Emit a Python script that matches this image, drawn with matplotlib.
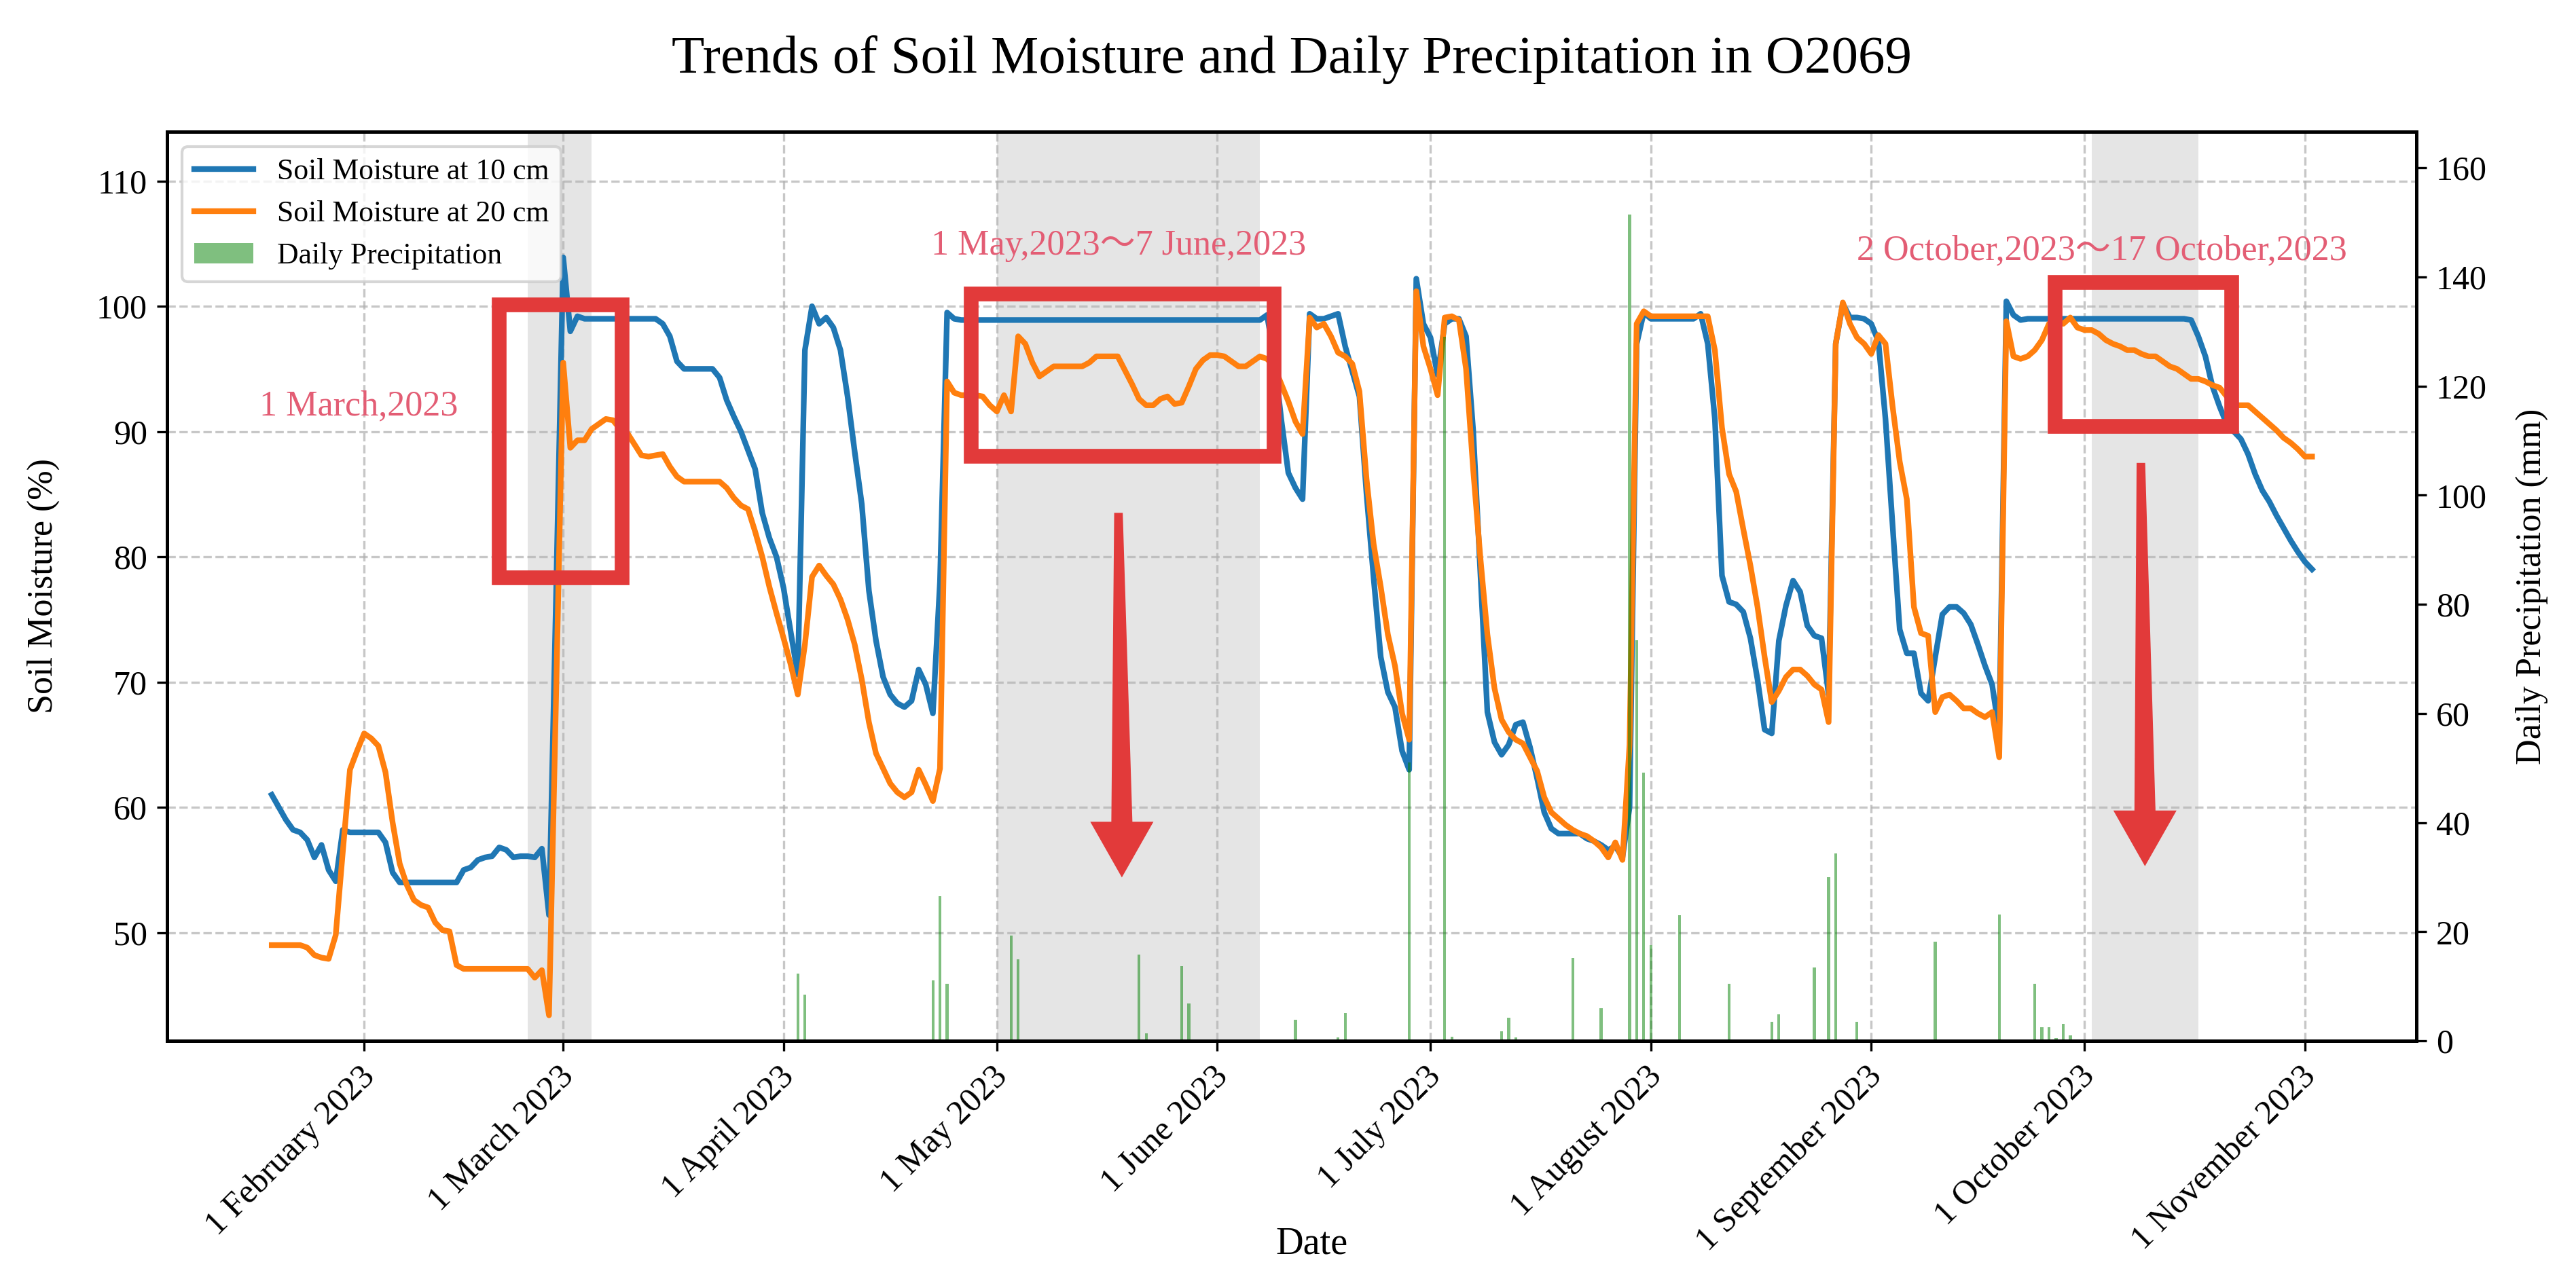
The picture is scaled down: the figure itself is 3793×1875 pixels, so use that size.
import numpy as np
import pandas as pd
import matplotlib
matplotlib.use("Agg")
import matplotlib.pyplot as plt
import matplotlib.dates as mdates
import matplotlib.transforms as mtransforms
from matplotlib.patches import Rectangle, Polygon
from matplotlib.ticker import MultipleLocator

plt.rcParams['font.family'] = ['Liberation Serif', 'Noto Sans CJK SC']
plt.rcParams['axes.linewidth'] = 1.2

# daily soil moisture (%), 19 Jan 2023 .. 2 Nov 2023
sm10 = [
    # Jan 19-31
    61.0, 60.0, 59.0, 58.2, 58.0, 57.4, 56.0, 57.0, 55.0, 54.1, 58.2, 58.0, 58.0,
    # Feb
    58.0, 58.0, 58.0, 57.2, 54.8, 54.0, 54.0, 54.0, 54.0, 54.0, 54.0, 54.0, 54.0, 54.0,
    55.0, 55.2, 55.8, 56.0, 56.1, 56.8, 56.6, 56.0, 56.1, 56.1, 56.0, 56.7, 51.4, 77.0,
    # Mar
    103.9, 98.0, 99.2, 99.0, 99.0, 99.0, 99.0, 99.0, 99.0, 99.0, 99.0, 99.0, 99.0, 99.0,
    98.6, 97.6, 95.6, 95.0, 95.0, 95.0, 95.0, 95.0, 94.3, 92.5, 91.2, 90.0, 88.5, 87.0,
    83.5, 81.5, 80.0,
    # Apr
    77.5, 74.0, 70.6, 96.5, 100.0, 98.6, 99.1, 98.3, 96.5, 92.8, 88.4, 84.2, 77.3, 73.3,
    70.4, 69.0, 68.3, 68.0, 68.5, 71.0, 69.8, 67.5, 78.0, 99.5, 99.0, 98.9, 98.9, 98.9,
    98.9, 98.9,
    # May
    98.9, 98.9, 98.9, 98.9, 98.9, 98.9, 98.9, 98.9, 98.9, 98.9, 98.9, 98.9, 98.9, 98.9,
    98.9, 98.9, 98.9, 98.9, 98.9, 98.9, 98.9, 98.9, 98.9, 98.9, 98.9, 98.9, 98.9, 98.9,
    98.9, 98.9, 98.9,
    # Jun
    98.9, 98.9, 98.9, 98.9, 98.9, 98.9, 98.9, 99.3, 96.0, 91.0, 86.7, 85.5, 84.6, 99.4,
    99.0, 99.0, 99.2, 99.4, 96.8, 94.8, 92.8, 85.0, 78.3, 72.0, 69.2, 68.0, 64.5, 63.0,
    102.2, 98.6,
    # Jul
    97.5, 94.5, 98.6, 99.0, 99.0, 97.6, 90.1, 78.9, 67.6, 65.2, 64.2, 65.0, 66.6, 66.8,
    64.8, 62.3, 59.6, 58.3, 57.9, 57.9, 57.9, 57.9, 57.5, 57.3, 57.0, 56.6, 56.9, 56.0,
    60.0, 97.0, 99.5,
    # Aug
    99.0, 99.0, 99.0, 99.0, 99.0, 99.0, 99.0, 99.4, 97.0, 91.0, 78.5, 76.4, 76.2, 75.6,
    73.5, 70.2, 66.2, 65.9, 73.3, 76.1, 78.1, 77.2, 74.5, 73.7, 73.5, 69.0, 97.0, 100.2,
    99.1, 99.1, 99.0,
    # Sep
    98.6, 97.2, 91.0, 82.5, 74.2, 72.3, 72.3, 69.1, 68.5, 72.0, 75.4, 76.0, 76.0, 75.5,
    74.6, 73.0, 71.3, 69.8, 66.0, 100.4, 99.3, 98.9, 99.0, 99.0, 99.0, 99.0, 99.0, 99.0,
    99.0, 99.0,
    # Oct
    99.0, 99.0, 99.0, 99.0, 99.0, 99.0, 99.0, 99.0, 99.0, 99.0, 99.0, 99.0, 99.0, 99.0,
    99.0, 98.9, 97.6, 96.0, 93.6, 92.0, 90.6, 90.0, 89.4, 88.2, 86.6, 85.3, 84.4, 83.3,
    82.3, 81.3, 80.4,
    # Nov 1-2
    79.6, 79.0,
]

sm20 = [
    # Jan 19-31
    49.0, 49.0, 49.0, 49.0, 49.0, 48.8, 48.2, 48.0, 47.9, 49.8, 56.5, 63.0, 64.5,
    # Feb
    65.9, 65.5, 64.9, 62.8, 58.8, 55.5, 53.8, 52.6, 52.2, 52.0, 50.8, 50.2, 50.1, 47.4,
    47.1, 47.1, 47.1, 47.1, 47.1, 47.1, 47.1, 47.1, 47.1, 47.1, 46.4, 47.0, 43.4, 69.0,
    # Mar
    95.5, 88.7, 89.3, 89.3, 90.2, 90.6, 91.0, 90.9, 90.2, 89.9, 89.0, 88.1, 88.0, 88.1,
    88.2, 87.2, 86.4, 86.0, 86.0, 86.0, 86.0, 86.0, 86.0, 85.5, 84.7, 84.1, 83.8, 82.0,
    80.0, 77.6, 75.5,
    # Apr
    73.5, 71.4, 69.0, 73.0, 78.4, 79.3, 78.5, 77.8, 76.6, 75.0, 73.0, 70.2, 66.8, 64.3,
    63.1, 61.9, 61.2, 60.8, 61.2, 63.0, 61.8, 60.5, 63.1, 94.0, 93.1, 92.9, 92.9, 92.9,
    92.8, 92.1,
    # May
    91.6, 92.9, 91.6, 97.6, 97.0, 95.5, 94.4, 94.8, 95.2, 95.2, 95.2, 95.2, 95.2, 95.5,
    96.0, 96.0, 96.0, 96.0, 94.9, 93.8, 92.6, 92.1, 92.1, 92.6, 92.8, 92.2, 92.3, 93.6,
    95.0, 95.7, 96.1,
    # Jun
    96.1, 96.0, 95.6, 95.2, 95.2, 95.6, 96.0, 95.8, 95.2, 93.8, 92.4, 90.8, 89.8, 99.1,
    98.3, 98.6, 97.6, 96.3, 96.0, 95.4, 93.2, 86.2, 81.0, 77.6, 73.8, 71.3, 67.5, 65.4,
    101.2, 96.8,
    # Jul
    95.0, 92.9, 99.1, 99.2, 98.9, 95.0, 87.0, 80.0, 73.8, 69.5, 67.0, 66.0, 65.4, 65.1,
    64.0, 62.9, 60.8, 59.6, 59.1, 58.6, 58.2, 57.9, 57.7, 57.3, 56.8, 56.0, 57.2, 55.8,
    65.0, 98.6, 99.6,
    # Aug
    99.2, 99.2, 99.2, 99.2, 99.2, 99.2, 99.2, 99.2, 99.2, 96.5, 90.3, 86.6, 85.2, 82.2,
    79.3, 76.0, 72.0, 68.4, 69.3, 70.4, 71.0, 71.0, 70.5, 69.8, 69.4, 66.8, 97.0, 100.3,
    98.6, 97.5, 97.0,
    # Sep
    96.2, 97.7, 97.0, 92.0, 87.6, 84.6, 76.0, 73.9, 73.7, 67.6, 68.8, 69.0, 68.5, 67.9,
    67.9, 67.5, 67.2, 67.6, 64.0, 98.8, 96.0, 95.8, 96.0, 96.5, 97.3, 98.6, 98.9, 98.6,
    99.1, 98.3,
    # Oct
    98.1, 98.1, 97.8, 97.3, 97.0, 96.8, 96.5, 96.5, 96.2, 96.0, 96.0, 95.6, 95.2, 95.0,
    94.6, 94.2, 94.2, 94.0, 93.7, 93.5, 92.8, 92.1, 92.1, 92.1, 91.6, 91.1, 90.6, 90.1,
    89.5, 89.1, 88.6,
    # Nov 1-2
    88.0, 88.0,
]

# days with precipitation (mm)
rain_days = ['2023-04-03', '2023-04-04', '2023-04-22', '2023-04-23', '2023-04-24', '2023-04-28',
             '2023-05-03', '2023-05-04', '2023-05-21', '2023-05-22', '2023-05-27', '2023-05-28',
             '2023-06-12', '2023-06-18', '2023-06-19', '2023-06-28', '2023-07-03', '2023-07-04',
             '2023-07-11', '2023-07-12', '2023-07-13', '2023-07-21', '2023-07-25', '2023-07-29',
             '2023-07-30', '2023-07-31', '2023-08-01', '2023-08-05', '2023-08-12', '2023-08-18',
             '2023-08-19', '2023-08-20', '2023-08-24', '2023-08-26', '2023-08-27', '2023-08-30',
             '2023-09-10', '2023-09-19', '2023-09-24', '2023-09-25', '2023-09-26', '2023-09-27',
             '2023-09-28', '2023-09-29']
rain_mm = [12.3, 8.4, 11.1, 26.5, 10.5, 0.3,
           19.3, 14.9, 15.8, 1.4, 13.7, 6.9,
           3.9, 0.6, 5.1, 51.0, 129.0, 0.8,
           1.8, 4.2, 0.6, 15.2, 6.0, 151.4,
           73.4, 49.2, 17.6, 23.0, 10.5, 3.5,
           4.9, 0.3, 13.4, 30.0, 34.4, 3.5,
           18.2, 23.1, 10.5, 2.5, 2.5, 0.5,
           3.1, 1.0]

periods = [('2023-02-24', '2023-03-05'), ('2023-05-01', '2023-06-07'), ('2023-10-02', '2023-10-17')]
period_labels = ['1 March,2023', '1 May,2023～7 June,2023', '2 October,2023～17 October,2023']

dates = pd.date_range('2023-01-19', periods=len(sm10), freq='D')
rain_dates = pd.to_datetime(rain_days)

RED = '#e23a3a'
PINK = '#e35d74'
d = lambda s: mdates.date2num(pd.Timestamp(s))

fig, ax1 = plt.subplots(figsize=(3793 / 300, 1875 / 300), dpi=300)
fig.subplots_adjust(left=0.0649, right=0.938, bottom=0.1824, top=0.8965)

for a, b in periods:
    ax1.axvspan(pd.Timestamp(a), pd.Timestamp(b), color='gray', alpha=0.2, lw=0)

ax1.plot(dates, sm10, color='#1f77b4', lw=2, label='Soil Moisture at 10 cm')
ax1.plot(dates, sm20, color='#ff7f0e', lw=2, label='Soil Moisture at 20 cm')
ax1.set_ylim(41.36, 113.93)
ax1.yaxis.set_major_locator(MultipleLocator(10))
ax1.set_xlim(d('2023-01-04 07:00'), d('2023-11-16 16:00'))
ax1.grid(True, linestyle='--', alpha=0.7)
ax1.set_xlabel('Date', fontsize=13.5)
ax1.xaxis.set_label_coords(0.509, -0.2046)
ax1.set_ylabel('Soil Moisture (%)', fontsize=12.5, labelpad=13)
ax1.tick_params(axis='y', labelsize=12)
ax1.tick_params(axis='x', labelsize=12)

ax1.xaxis.set_major_locator(mdates.MonthLocator(bymonthday=1))
ax1.xaxis.set_major_formatter(mdates.DateFormatter('%-d %B %Y'))
shift = mtransforms.ScaledTranslation(6 / 72, 0, fig.dpi_scale_trans)
for lbl in ax1.get_xticklabels():
    lbl.set_rotation(45)
    lbl.set_ha('right')
    lbl.set_transform(lbl.get_transform() + shift)

ax2 = ax1.twinx()
ax2.bar(rain_dates, rain_mm, width=0.4, color='green', alpha=0.5, label='Daily Precipitation')
ax2.set_ylim(0, 166.6)
ax2.set_ylabel('Daily Precipitation (mm)', fontsize=12.5, labelpad=10)
ax2.tick_params(labelsize=12)

# highlight boxes
boxes = [('2023-02-20 00:00', '2023-03-09 07:00', 78.35, 100.1),
         ('2023-04-27 10:00', '2023-06-09 01:00', 88.0, 101.0),
         ('2023-09-26 20:00', '2023-10-21 17:00', 90.4, 101.9)]
for x0, x1, y0, y1 in boxes:
    ax1.add_patch(Rectangle((d(x0), y0), d(x1) - d(x0), y1 - y0, fill=False,
                            edgecolor=RED, lw=5.2, zorder=6))

# downward arrows: tip position in data, shape in pixels (tapered shaft, triangular head)
arrows = [('2023-05-18 14:00', 54.4, 537, -5),
          ('2023-10-09 12:00', 55.3, 594, -6)]
for tip_t, tip_v, length, lean in arrows:
    shape = np.array([(0, 0), (-46.5, 82), (-15.5, 82), (-6.3 + lean, length),
                      (6.3 + lean, length), (15.5, 82), (46.5, 82)]) / 300.0
    trans = fig.dpi_scale_trans + mtransforms.ScaledTranslation(d(tip_t), tip_v, ax1.transData)
    ax1.add_patch(Polygon(shape, closed=True, transform=trans, facecolor=RED,
                          edgecolor='none', zorder=6))

text_pos = [('2023-01-17 06:00', 91.3), ('2023-04-21 18:00', 104.1), ('2023-08-29 22:00', 103.7)]
for (t, v), s in zip(text_pos, period_labels):
    ax1.text(d(t), v, s, color=PINK, fontsize=12.5, ha='left', va='baseline', zorder=7)

h1, l1 = ax1.get_legend_handles_labels()
h2, l2 = ax2.get_legend_handles_labels()
ax2.legend(h1 + h2, l1 + l2, loc='upper left', fontsize=10.5)

ax1.set_title('Trends of Soil Moisture and Daily Precipitation in O2069', fontsize=19.0, pad=21)

fig.savefig('out.png', dpi=300)
